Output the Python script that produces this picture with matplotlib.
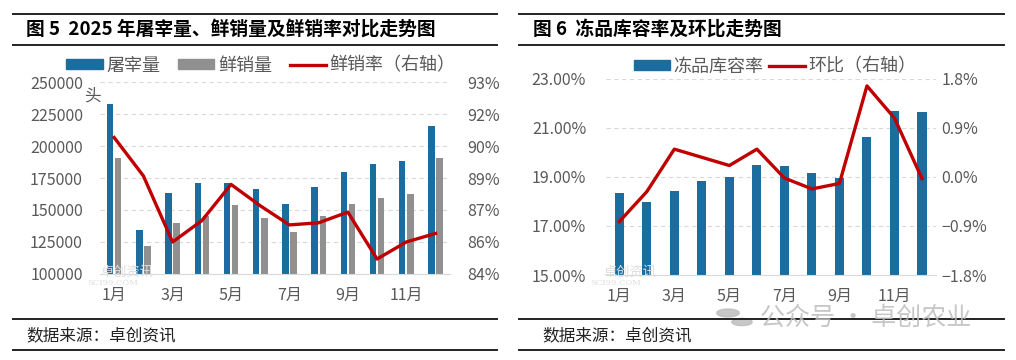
import matplotlib

matplotlib.use("Agg")
import matplotlib.pyplot as plt
import numpy as np
from matplotlib.lines import Line2D

plt.rcParams["font.family"] = ["Noto Sans CJK SC", "DejaVu Sans"]

# 图5 数据
months = ["1月", "2月", "3月", "4月", "5月", "6月", "7月", "8月", "9月", "10月", "11月", "12月"]
slaughter = [233000, 134500, 163300, 170800, 170800, 166700, 155000, 167700, 179400, 185900, 188000, 215700]
fresh_sales = [191000, 121800, 139900, 145000, 153700, 144100, 133000, 145400, 155000, 159400, 162500, 191000]
fresh_rate = [90.4, 88.6, 85.5, 86.5, 88.2, 87.2, 86.3, 86.4, 86.9, 84.7, 85.5, 85.9]
left_ticks = [100000, 125000, 150000, 175000, 200000, 225000, 250000]
rate_ticks = [84, 85.5, 87, 88.5, 90, 91.5, 93]
rate_labels = ["84%", "86%", "87%", "89%", "90%", "92%", "93%"]

# 图6 数据
storage = [18.33, 17.99, 18.44, 18.82, 19.01, 19.50, 19.45, 19.16, 18.96, 20.62, 21.69, 21.64]
mom = [-0.82, -0.27, 0.51, 0.36, 0.21, 0.51, -0.02, -0.22, -0.12, 1.67, 1.08, -0.03]
storage_ticks = [15, 17, 19, 21, 23]
mom_ticks = [-1.8, -0.9, 0.0, 0.9, 1.8]

BLUE = "#1b6c9f"
GRAY = "#909090"
RED = "#c00000"
TICK_COLOR = "#595959"
GRID_COLOR = "#d9d9d9"

fig = plt.figure(figsize=(10.16, 3.6), dpi=100)
x = np.arange(len(months))


def style_axes(ax):
    for s in ["top", "left", "right"]:
        ax.spines[s].set_visible(False)
    ax.spines["bottom"].set_color(GRID_COLOR)
    ax.grid(axis="y", color=GRID_COLOR, linestyle=(0, (4, 3)), linewidth=0.8)
    ax.set_axisbelow(True)
    ax.tick_params(length=0, labelsize=11.5, colors=TICK_COLOR)
    ax.tick_params(axis="x", pad=9)
    ax.set_xticks(x[::2])
    ax.set_xticklabels(months[::2])
    ax.set_xlim(-0.5, len(months) - 0.5)


# ---------- 左图 ----------
ax1 = fig.add_axes([0.098, 0.239, 0.345, 0.533])
ax1.bar(x - 0.14, slaughter, width=0.22, color=BLUE, label="屠宰量")
ax1.bar(x + 0.14, fresh_sales, width=0.22, color=GRAY, label="鲜销量")
ax1.set_ylim(100000, 250000)
ax1.set_yticks(left_ticks)
style_axes(ax1)
ax1.tick_params(axis="y", pad=12)

ax1r = ax1.twinx()
ax1r.plot(x, fresh_rate, color=RED, linewidth=2.4)
ax1r.set_ylim(84, 93)
ax1r.set_yticks(rate_ticks)
ax1r.set_yticklabels(rate_labels)
for s in ["top", "left", "right", "bottom"]:
    ax1r.spines[s].set_visible(False)
ax1r.tick_params(length=0, labelsize=11.5, colors=TICK_COLOR, pad=12)

h1 = [plt.Rectangle((0, 0), 1, 1, color=BLUE), plt.Rectangle((0, 0), 1, 1, color=GRAY),
      Line2D([0], [0], color=RED, linewidth=2.4)]
fig.legend(h1, ["屠宰量", "鲜销量", "鲜销率（右轴）"], loc="center", bbox_to_anchor=(0.257, 0.818),
           ncol=3, frameon=False, fontsize=13, handlelength=2.0, handleheight=0.5,
           handletextpad=0.2, columnspacing=1.0, labelcolor=TICK_COLOR)
fig.text(92 / 1016, 1 - 96 / 360, "头", fontsize=12, color=TICK_COLOR, ha="center", va="center")

# ---------- 右图 ----------
ax2 = fig.add_axes([0.596, 0.236, 0.325, 0.545])
ax2.bar(x, storage, width=0.33, color=BLUE)
ax2.set_ylim(15, 23)
ax2.set_yticks(storage_ticks)
ax2.set_yticklabels([f"{v:.2f}%" for v in storage_ticks])
style_axes(ax2)
ax2.tick_params(axis="y", pad=14)

ax2r = ax2.twinx()
ax2r.plot(x, mom, color=RED, linewidth=2.4)
ax2r.set_ylim(-1.8, 1.8)
ax2r.set_yticks(mom_ticks)
ax2r.set_yticklabels([f"{v:.1f}%".replace("-", "−") if v != 0 else "0.0%" for v in mom_ticks])
for s in ["top", "left", "right", "bottom"]:
    ax2r.spines[s].set_visible(False)
ax2r.tick_params(length=0, labelsize=11.5, colors=TICK_COLOR, pad=4)

h2 = [plt.Rectangle((0, 0), 1, 1, color=BLUE), Line2D([0], [0], color=RED, linewidth=2.4)]
fig.legend(h2, ["冻品库容率", "环比（右轴）"], loc="center", bbox_to_anchor=(0.763, 0.815),
           ncol=2, frameon=False, fontsize=13, handlelength=2.0, handleheight=0.5,
           handletextpad=0.2, columnspacing=0.3, labelcolor=TICK_COLOR)

# ---------- 标题、边框线、来源 ----------
for x0, x1 in [(13 / 1016, 497 / 1016), (519 / 1016, 1004 / 1016)]:
    for yy in [0.961, 0.875, 0.114, 0.028]:
        fig.add_artist(Line2D([x0, x1], [yy, yy], color="#222222", linewidth=1.4))

fig.text(0.026, 0.918, "图 5  2025 年屠宰量、鲜销量及鲜销率对比走势图", fontsize=13.5,
         fontweight="bold", va="center", ha="left")
fig.text(0.525, 0.918, "图 6  冻品库容率及环比走势图", fontsize=13.5,
         fontweight="bold", va="center", ha="left")
fig.text(0.026, 0.066, "数据来源：卓创资讯", fontsize=12, va="center", ha="left", color="#222222")
fig.text(0.534, 0.066, "数据来源：卓创资讯", fontsize=12, va="center", ha="left", color="#222222")

# 水印
for dx in [0, 503]:
    fig.text((100 + dx) / 1016, 1 - 272 / 360, "卓创资讯", fontsize=9.5, color="#dddddd",
             va="center", ha="left", zorder=0)
    fig.text((87 + dx) / 1016, 1 - 283 / 360, "SCI99.COM", fontsize=6, color="#dddddd",
             va="center", ha="left", zorder=0, family="DejaVu Serif")
fig.text(760 / 1016, 1 - 318 / 360, "公众号 · 卓创农业", fontsize=18, color="#bdbdbd",
         va="center", ha="left", alpha=0.85)
fig.add_artist(plt.Circle((728 / 1016, 1 - 313 / 360), 0.011, color="#bdbdbd",
                          transform=fig.transFigure, alpha=0.85))
fig.add_artist(plt.Circle((742 / 1016, 1 - 322 / 360), 0.010, color="#bdbdbd",
                          transform=fig.transFigure, alpha=0.85))

fig.savefig("out.png", dpi=100)
